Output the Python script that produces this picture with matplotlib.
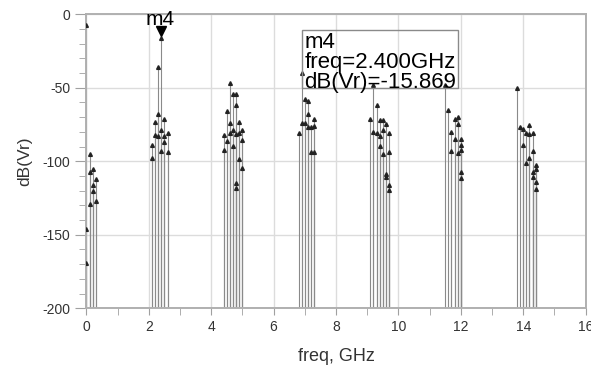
import matplotlib.pyplot as plt
from matplotlib.patches import Rectangle
from matplotlib.ticker import MultipleLocator
import matplotlib.transforms as mtransforms

plt.rcParams['font.family'] = ['Liberation Sans', 'DejaVu Sans']
plt.rcParams['axes.unicode_minus'] = False

# spectrum tones, one entry per marker (freq in GHz, level in dB)
freq_dc = [0.0, 0.0, 0.0, 0.1, 0.1, 0.1, 0.2, 0.2, 0.2, 0.3, 0.3]
db_dc = [-7, -146, -169, -95, -107, -129, -105, -116, -120, -112, -127]

freq_h1 = [2.1, 2.1, 2.2, 2.2, 2.3, 2.3, 2.3, 2.4, 2.4, 2.4, 2.5, 2.5, 2.5, 2.6, 2.6]
db_h1 = [-89, -97.5, -73, -82, -36, -68, -83, -15.869, -79, -93, -71, -83, -87, -80.5, -94]

freq_h2 = [4.4, 4.4, 4.5, 4.5, 4.6, 4.6, 4.6, 4.7, 4.7, 4.7,
           4.8, 4.8, 4.8, 4.8, 4.8, 4.9, 4.9, 4.9, 5.0, 5.0, 5.0]
db_h2 = [-82, -92, -66, -86, -46.5, -74, -81, -54.5, -79, -89.5,
         -54.5, -62, -81.5, -115, -118, -73, -80.5, -98.5, -79, -85.5, -104.5]

freq_h3 = [6.8, 6.9, 6.9, 7.0, 7.0, 7.1, 7.1, 7.1, 7.2, 7.2, 7.3, 7.3, 7.3]
db_h3 = [-80.5, -40, -74, -57.5, -74, -59, -68, -76.5, -76.5, -94, -71.5, -76, -94]

freq_h4 = [9.1, 9.2, 9.2, 9.3, 9.3, 9.4, 9.4, 9.4, 9.5, 9.5, 9.5,
           9.6, 9.6, 9.6, 9.7, 9.7, 9.7, 9.7]
db_h4 = [-71, -48, -80, -61.5, -80.5, -72, -83, -89.5, -72, -78.5, -95,
         -74.5, -108.5, -111, -81, -94, -116, -119.5]

freq_h5 = [11.5, 11.6, 11.7, 11.7, 11.8, 11.8, 11.9, 11.9, 11.9,
           12.0, 12.0, 12.0, 12.0, 12.0]
db_h5 = [-48, -65, -80, -93, -71, -84.5, -70, -74.5, -94.5,
         -84.5, -89, -92.5, -107, -111.5]

freq_h6 = [13.8, 13.9, 14.0, 14.0, 14.1, 14.1, 14.2, 14.2, 14.2,
           14.3, 14.3, 14.3, 14.3, 14.4, 14.4, 14.4, 14.4]
db_h6 = [-50, -77, -78, -89, -81, -101.5, -75.5, -81.5, -97.5,
         -80.5, -93, -107, -111, -102.5, -105.5, -114, -119]

freq = freq_dc + freq_h1 + freq_h2 + freq_h3 + freq_h4 + freq_h5 + freq_h6
db = db_dc + db_h1 + db_h2 + db_h3 + db_h4 + db_h5 + db_h6

# marker m4
m4_freq = 2.4
m4_db = -15.869

fig = plt.figure(figsize=(5.91, 3.74), dpi=100, facecolor='w')
ax = fig.add_axes([0.1462, 0.1757, 0.8447, 0.7861])

ax.vlines(freq, -200, db, colors='#8a8a8a', lw=0.8, zorder=2)
ax.plot(freq, db, '^', ms=2.7, color='#222222', mec='#222222', zorder=3)

# marker m4: down triangle sitting on the point
off = mtransforms.ScaledTranslation(0, 4.5 / 72, fig.dpi_scale_trans)
ax.plot([m4_freq], [m4_db], 'v', ms=7.5, color='black', zorder=4,
        transform=ax.transData + off)
ax.text(m4_freq - 0.05, -7.5, 'm4', ha='center', va='baseline', fontsize=15)

# readout box
ax.add_patch(Rectangle((6.92, -50.3), 11.91 - 6.92, 50.3 - 10.7,
                       fill=False, ec='#8a8a8a', lw=1.0, zorder=5))
ax.text(6.98, -23.2, 'm4', fontsize=16, va='baseline', zorder=6)
ax.text(6.98, -36.8, 'freq=2.400GHz', fontsize=16, va='baseline', zorder=6)
ax.text(6.98, -50.0, 'dB(Vr)=-15.869', fontsize=16, va='baseline', zorder=6)

ax.set_xlim(0, 16)
ax.set_ylim(-200, 0)
ax.xaxis.set_major_locator(MultipleLocator(2))
ax.xaxis.set_minor_locator(MultipleLocator(1))
ax.yaxis.set_major_locator(MultipleLocator(50))
ax.yaxis.set_minor_locator(MultipleLocator(10))
ax.grid(True, which='major', color='#dcdcdc', lw=1.0, zorder=0)
ax.set_axisbelow(True)

ax.tick_params(which='both', direction='out', color='#a0a0a0', labelsize=10,
               labelcolor='#333333')
ax.tick_params(axis='y', which='major', length=8)
ax.tick_params(axis='y', which='minor', length=5)
ax.tick_params(axis='x', which='both', length=5)

for spine in ('top', 'right', 'bottom', 'left'):
    ax.spines[spine].set_color('#b0b0b0')
    ax.spines[spine].set_linewidth(1.4)

ax.set_xlabel('freq, GHz', fontsize=13, color='#333333', labelpad=10)
ax.set_ylabel('dB(Vr)', fontsize=12.5, color='#333333', labelpad=7)

plt.savefig('out.png', dpi=100)
